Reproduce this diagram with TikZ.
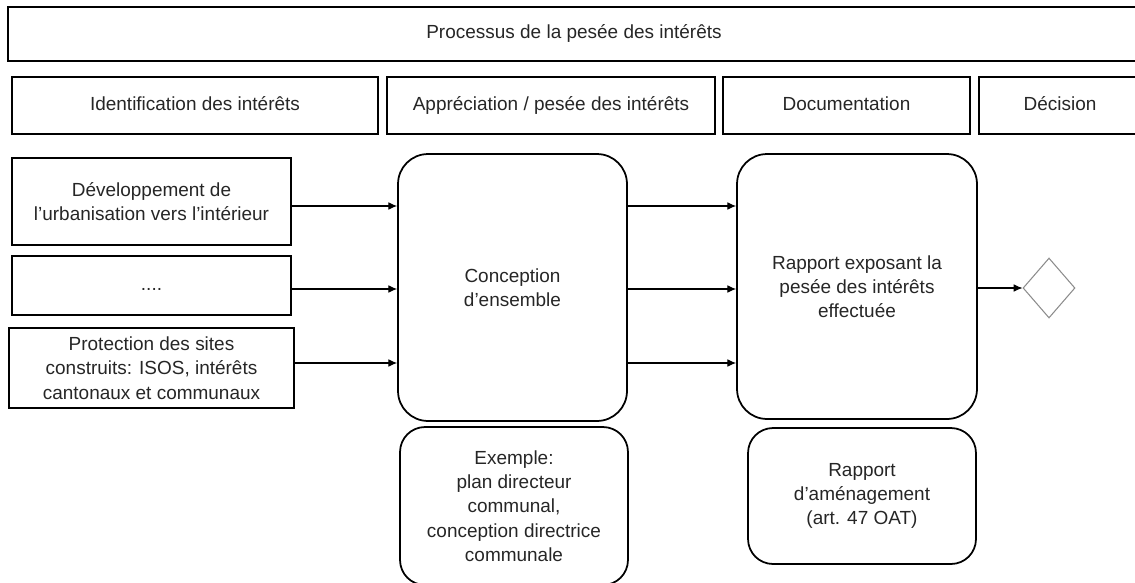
\documentclass[tikz,border=0pt]{standalone}
\usepackage{fontspec}
\setmainfont{Liberation Sans}
\usetikzlibrary{shapes.geometric, arrows.meta}

\tikzset{
	texte/.style = {font=\fontsize{10.8}{13.8}\selectfont, align=center, text=black!85},
	ligne/.style = {text height=8pt, text depth=2.5pt},
	cadre/.style = {draw, rectangle, line width=1pt, inner sep=0pt, texte},
	bloc/.style = {draw, rectangle, rounded corners=0.6cm, line width=1pt, inner sep=0pt, texte},
	petitbloc/.style = {bloc, rounded corners=0.5cm},
	fleche/.style = {->, >={Latex[length=5pt, width=4.4pt]}, line width=0.6pt},
}

\begin{document}
\begin{tikzpicture}[x=0.02cm, y=-0.02cm]
		\useasboundingbox (0,0) rectangle (1135,582);
		\clip (0,0) rectangle (1135,582);
		% titre
		\node [cadre, ligne, line width=1.3pt, minimum width=22.64cm, minimum height=1.08cm] (titre) at (574,34) {Processus de la pesée des intérêts};
		% étapes
		\node [cadre, ligne, minimum width=7.32cm, minimum height=1.14cm] (etapeA) at (195,105.5) {Identification des intérêts};
		\node [cadre, ligne, minimum width=6.56cm, minimum height=1.14cm] (etapeB) at (551,105.5) {Appréciation / pesée des intérêts};
		\node [cadre, ligne, minimum width=4.94cm, minimum height=1.14cm] (etapeC) at (846.5,105.5) {Documentation};
		\node [cadre, ligne, minimum width=3.24cm, minimum height=1.14cm] (etapeD) at (1060,105.5) {Décision};
		% intérêts
		\node [cadre, minimum width=5.58cm, minimum height=1.74cm] (interetA) at (151.5,201.5) {Développement de\\l’urbanisation vers l’intérieur};
		\node [cadre, ligne, minimum width=5.58cm, minimum height=1.18cm] (interetB) at (151.5,285.5) {....};
		\node [cadre, minimum width=5.7cm, minimum height=1.6cm] (interetC) at (151.5,368) {Protection des sites\\construits: ISOS, intérêts\\cantonaux et communaux};
		% conception / rapport
		\node [bloc, minimum width=4.58cm, minimum height=5.34cm] (conception) at (512.5,287.5) {Conception\\d’ensemble};
		\node [bloc, minimum width=4.8cm, minimum height=5.3cm] (rapport) at (857,286.5) {Rapport exposant la\\pesée des intérêts\\effectuée};
		\node [petitbloc, minimum width=4.56cm, minimum height=3.16cm] (exemple) at (514,506) {Exemple:\\plan directeur\\communal,\\conception directrice\\communale};
		\node [petitbloc, minimum width=4.56cm, minimum height=2.72cm] (amenagement) at (862,496) {Rapport\\d’aménagement\\(art. 47 OAT)};
		% décision
		\node [draw=black!45, diamond, line width=0.6pt, inner sep=0pt, minimum width=1.04cm, minimum height=1.2cm] (decision) at (1049,288) {};
		% flèches
		\coordinate (h1) at (0,206);
		\coordinate (h2) at (0,289);
		\coordinate (h3) at (0,363);
		\draw [fleche] (interetA.east |- h1) -- (conception.west |- h1);
		\draw [fleche] (interetB.east |- h2) -- (conception.west |- h2);
		\draw [fleche] (interetC.east |- h3) -- (conception.west |- h3);
		\draw [fleche] (conception.east |- h1) -- (rapport.west |- h1);
		\draw [fleche] (conception.east |- h2) -- (rapport.west |- h2);
		\draw [fleche] (conception.east |- h3) -- (rapport.west |- h3);
		\draw [fleche] (rapport.east |- decision) -- (decision.west);
	\end{tikzpicture}
\end{document}
